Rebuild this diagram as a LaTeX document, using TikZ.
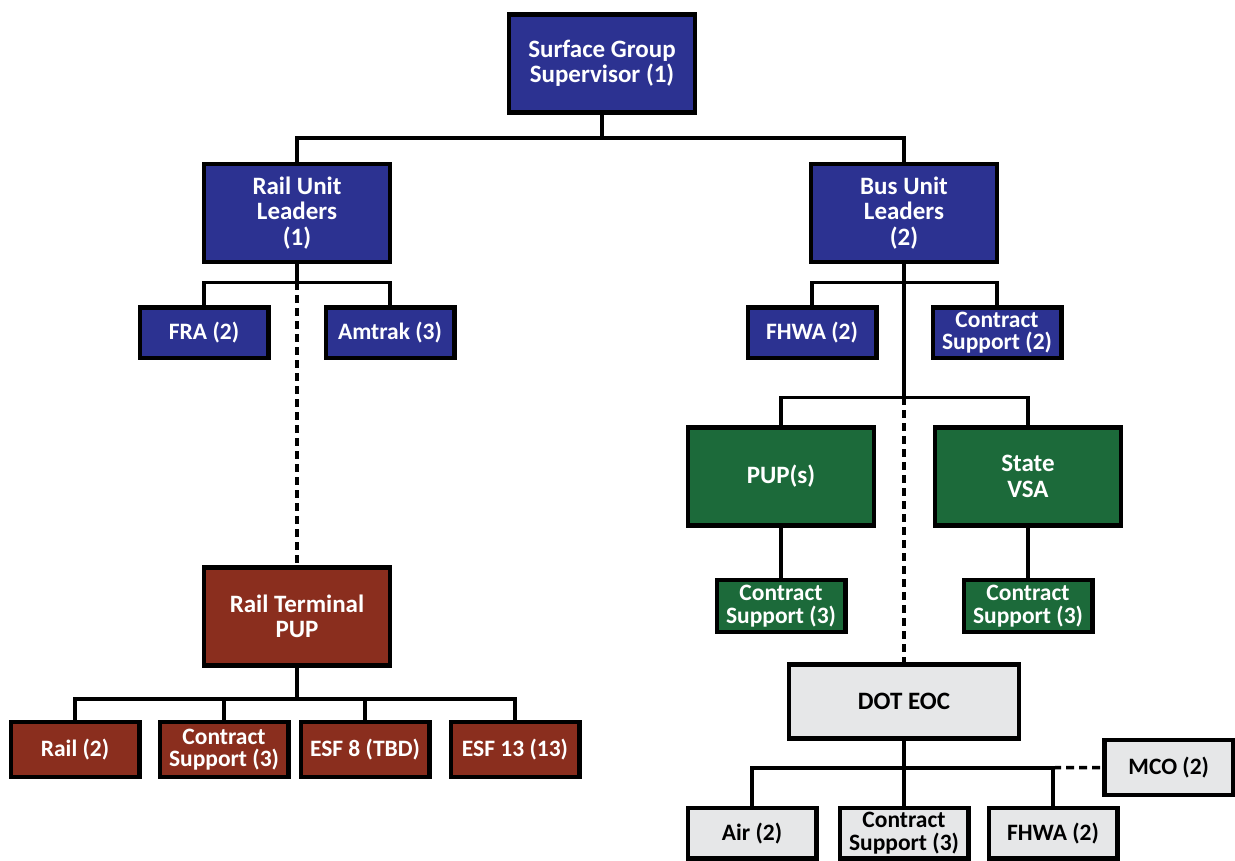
\documentclass[tikz,border=0pt]{standalone}
\usepackage{fontspec}
\setmainfont{Carlito}
\usetikzlibrary{positioning}
\usepackage{xcolor}
\definecolor{unitblue}{RGB}{44,50,145}
\definecolor{pupgreen}{RGB}{28,106,58}
\definecolor{railred}{RGB}{138,46,30}
\definecolor{eocgray}{RGB}{230,231,232}

\begin{document}
\begin{tikzpicture}[
    box/.style={draw=black,line width=4.5pt,inner sep=2pt,align=center,font=\bfseries\fontsize{25}{25.5}\selectfont},
    bigbox/.style={box,minimum width=186pt,minimum height=98pt},
    smallbox/.style={box,minimum width=128.5pt,minimum height=50.5pt,font=\bfseries\fontsize{23.5}{22.5}\selectfont},
    unitfill/.style={fill=unitblue,text=white},
    pupfill/.style={fill=pupgreen,text=white},
    railfill/.style={fill=railred,text=white},
    eocfill/.style={fill=eocgray,text=black},
    conn/.style={line width=3.5pt},
    dashconn/.style={conn,dash pattern=on 8pt off 5pt}
  ]
    \useasboundingbox (0,0) rectangle (1235pt,-860pt);
    % supervisor and unit leaders
    \node[bigbox,unitfill] (sup) at (602pt,-63.5pt) {Surface Group\\Supervisor (1)};
    \node[bigbox,unitfill,below=47pt of sup,xshift=-305pt] (rail) {Rail Unit\\Leaders\\(1)};
    \node[bigbox,unitfill,below=47pt of sup,xshift=302pt] (bus) {Bus Unit\\Leaders\\(2)};
    \node[smallbox,unitfill,below=41pt of rail,xshift=-93pt] (fra) {FRA (2)};
    \node[smallbox,unitfill,below=41pt of rail,xshift=93pt] (amtrak) {Amtrak (3)};
    \node[smallbox,unitfill,below=41pt of bus,xshift=-92pt] (fhwa) {FHWA (2)};
    \node[smallbox,unitfill,below=41pt of bus,xshift=93pt] (busctr) {Contract\\Support (2)};
    % bus side
    \node[bigbox,pupfill,below=161pt of bus,xshift=-123pt] (pups) {PUP(s)};
    \node[bigbox,pupfill,below=161pt of bus,xshift=124pt] (vsa) {State\\VSA};
    \node[smallbox,pupfill,minimum height=52pt,below=50pt of pups] (pupctr) {Contract\\Support (3)};
    \node[smallbox,pupfill,minimum height=52pt,below=50pt of vsa] (vsactr) {Contract\\Support (3)};
    \node[bigbox,eocfill,minimum width=230pt,minimum height=74pt,below=398pt of bus] (eoc) {DOT EOC};
    \node[smallbox,eocfill,below=65pt of eoc,xshift=-152pt] (air) {Air (2)};
    \node[smallbox,eocfill,below=65pt of eoc] (eocctr) {Contract\\Support (3)};
    \node[smallbox,eocfill,below=65pt of eoc,xshift=149pt] (fhwa2) {FHWA (2)};
    \node[smallbox,eocfill,minimum height=55pt,right=81pt of eoc,yshift=-66pt] (mco) {MCO (2)};
    % rail side
    \node[bigbox,railfill,below=301pt of rail] (rtp) {Rail Terminal\\PUP};
    \node[smallbox,railfill,minimum height=55pt,below=52pt of rtp,xshift=-222pt] (rail2) {Rail (2)};
    \node[smallbox,railfill,minimum height=55pt,below=52pt of rtp,xshift=-73pt] (railctr) {Contract\\Support (3)};
    \node[smallbox,railfill,minimum height=55pt,below=52pt of rtp,xshift=68pt] (esf8) {ESF 8 (TBD)};
    \node[smallbox,railfill,minimum height=55pt,below=52pt of rtp,xshift=218pt] (esf13) {ESF 13 (13)};
    % connectors
    \draw[conn] (sup.south) -- ++(0,-23pt) coordinate (supbar);
    \draw[conn] (rail.north) |- (supbar) -| (bus.north);
    \draw[conn] (rail.south) -- ++(0,-18pt) coordinate (railbar);
    \draw[conn] (fra.north) |- (railbar) -| (amtrak.north);
    \draw[dashconn] (railbar) -- (rtp.north);
    \draw[conn] (bus.south) -- ++(0,-18pt) coordinate (busbar) -- ++(0,-115pt) coordinate (pupbar);
    \draw[conn] (fhwa.north) |- (busbar) -| (busctr.north);
    \draw[conn] (pups.north) |- (pupbar) -| (vsa.north);
    \draw[dashconn] (pupbar) -- (eoc.north);
    \draw[conn] (pups.south) -- (pupctr.north);
    \draw[conn] (vsa.south) -- (vsactr.north);
    \draw[conn] (rtp.south) -- ++(0,-31pt) coordinate (rtpbar);
    \draw[conn] (rail2.north) |- (rtpbar) -| (esf13.north);
    \draw[conn] (railctr.north) -- (railctr.north |- rtpbar);
    \draw[conn] (esf8.north) -- (esf8.north |- rtpbar);
    \draw[conn] (eoc.south) -- ++(0,-27pt) coordinate (eocbar);
    \draw[conn] (air.north) |- (eocbar) -| (fhwa2.north);
    \draw[conn] (eocctr.north) -- (eocctr.north |- eocbar);
    \draw[dashconn] (fhwa2.north |- eocbar) -- (mco.west);
  \end{tikzpicture}
\end{document}
